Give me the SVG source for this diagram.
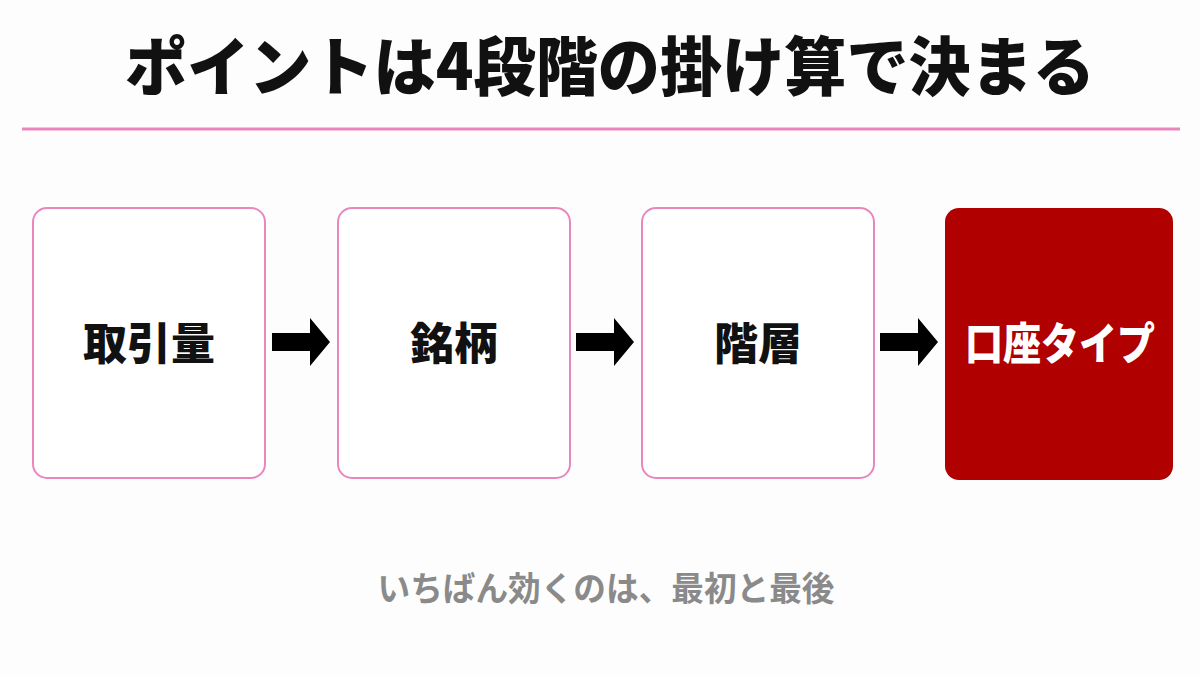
<svg xmlns="http://www.w3.org/2000/svg" width="1200" height="675" viewBox="0 0 1200 675">
<defs><style>
.box{fill:#fff;stroke:#e987bd;stroke-width:2}
.red{fill:#b00000}
.t{font-family:"Noto Sans CJK JP",sans-serif;font-weight:900;font-size:44px;text-anchor:middle;fill:#111}
.arr{fill:#000}
</style>
<path id="a" d="M0 15 H38 V0 L58 24 L38 48 V33 H0 Z"/></defs>
<rect width="1200" height="675" fill="#fdfdfd"/>
<text x="610" y="90" font-family="'Noto Sans CJK JP',sans-serif" font-weight="900" font-size="64" text-anchor="middle" fill="#111" textLength="970" lengthAdjust="spacingAndGlyphs">ポイントは4段階の掛け算で決まる</text>
<line x1="22" y1="129" x2="1180" y2="129" stroke="#e987bd" stroke-width="3"/>
<g id="n1"><rect class="box" x="33" y="208" width="232" height="270" rx="14"/><text class="t" x="149" y="360">取引量</text></g>
<g id="n2"><rect class="box" x="338" y="208" width="232" height="270" rx="14"/><text class="t" x="454" y="360">銘柄</text></g>
<g id="n3"><rect class="box" x="642" y="208" width="232" height="270" rx="14"/><text class="t" x="758" y="360">階層</text></g>
<g id="n4"><rect class="red" x="945" y="208" width="228" height="272" rx="14"/><text class="t" x="1060" y="360" style="fill:#fff" textLength="190" lengthAdjust="spacingAndGlyphs">口座タイプ</text></g>
<g id="connectors">
<use href="#a" class="arr" x="272" y="318"/>
<use href="#a" class="arr" x="576" y="318"/>
<use href="#a" class="arr" x="880" y="318"/>
</g>
<text x="606" y="601" font-family="'Noto Sans CJK JP',sans-serif" font-weight="700" font-size="34" text-anchor="middle" fill="#8a8a8a" textLength="457" lengthAdjust="spacingAndGlyphs">いちばん効くのは、最初と最後</text>
</svg>
